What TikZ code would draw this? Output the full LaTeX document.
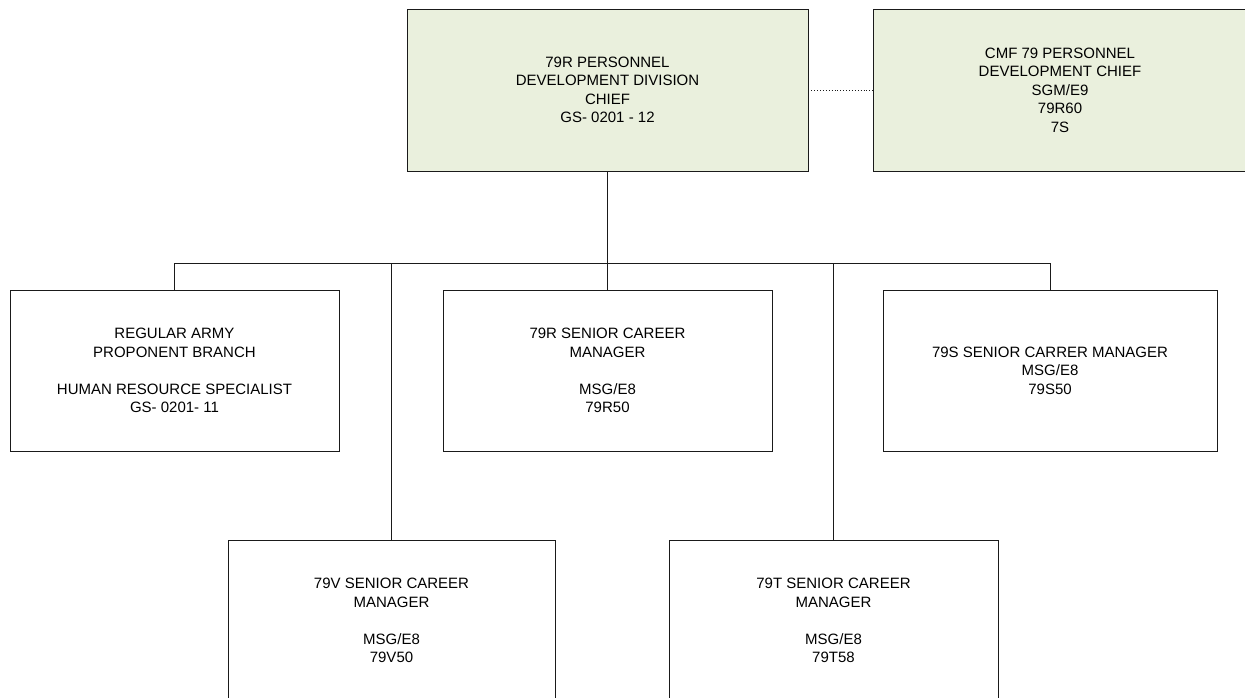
\documentclass[tikz,border=0pt]{standalone}
\usepackage{fontspec}
\setmainfont{Liberation Sans}
\definecolor{boxgreen}{HTML}{EAF0DD}
\definecolor{lineclr}{HTML}{1A1A1A}
\begin{document}
\begin{tikzpicture}[x=1pt,y=-1pt,
  orgbox/.style={draw=lineclr, line width=0.9pt, align=center, inner sep=0pt,
    font=\fontsize{15}{18.5}\selectfont, text=black},
  greenbox/.style={orgbox, fill=boxgreen},
  conn/.style={draw=lineclr, line width=0.9pt}]
\useasboundingbox (0,0) rectangle (1245,698);
\clip (0,0) rectangle (1245,698);
\fill[white] (0,0) rectangle (1245,698);

\node[greenbox, minimum width=401pt, minimum height=162pt] (A) at (607.5,90)
  {79R PERSONNEL\\DEVELOPMENT DIVISION\\CHIEF\\GS- 0201 - 12};
\node[greenbox, minimum width=374pt, minimum height=162pt] (B) at (1060,90)
  {CMF 79 PERSONNEL\\DEVELOPMENT CHIEF\\SGM/E9\\79R60\\7S};

\node[orgbox, minimum width=329pt, minimum height=161pt] (C) at (174.5,370.5)
  {REGULAR ARMY\\PROPONENT BRANCH\\[18.5pt]HUMAN RESOURCE SPECIALIST\\GS- 0201- 11};
\node[orgbox, minimum width=329pt, minimum height=161pt] (D) at (607.5,370.5)
  {79R SENIOR CAREER\\MANAGER\\[18.5pt]MSG/E8\\79R50};
\node[orgbox, minimum width=334pt, minimum height=161pt] (E) at (1050,370.5)
  {79S SENIOR CARRER MANAGER\\MSG/E8\\79S50};

\node[orgbox, minimum width=327pt, minimum height=161pt] (F) at (391.5,620.5)
  {79V SENIOR CAREER\\MANAGER\\[18.5pt]MSG/E8\\79V50};
\node[orgbox, minimum width=329pt, minimum height=161pt] (G) at (833.5,620.5)
  {79T SENIOR CAREER\\MANAGER\\[18.5pt]MSG/E8\\79T58};

\coordinate (bus) at (0,263);
\draw[conn, dotted] (A.east) -- (B.west);
\draw[conn] (A.south) -- (A.south |- bus);
\draw[conn] (C.north) -- (C.north |- bus) -- (E.north |- bus) -- (E.north);
\draw[conn] (D.north) -- (D.north |- bus);
\draw[conn] (F.north) -- (F.north |- bus);
\draw[conn] (G.north) -- (G.north |- bus);
\end{tikzpicture}
\end{document}
